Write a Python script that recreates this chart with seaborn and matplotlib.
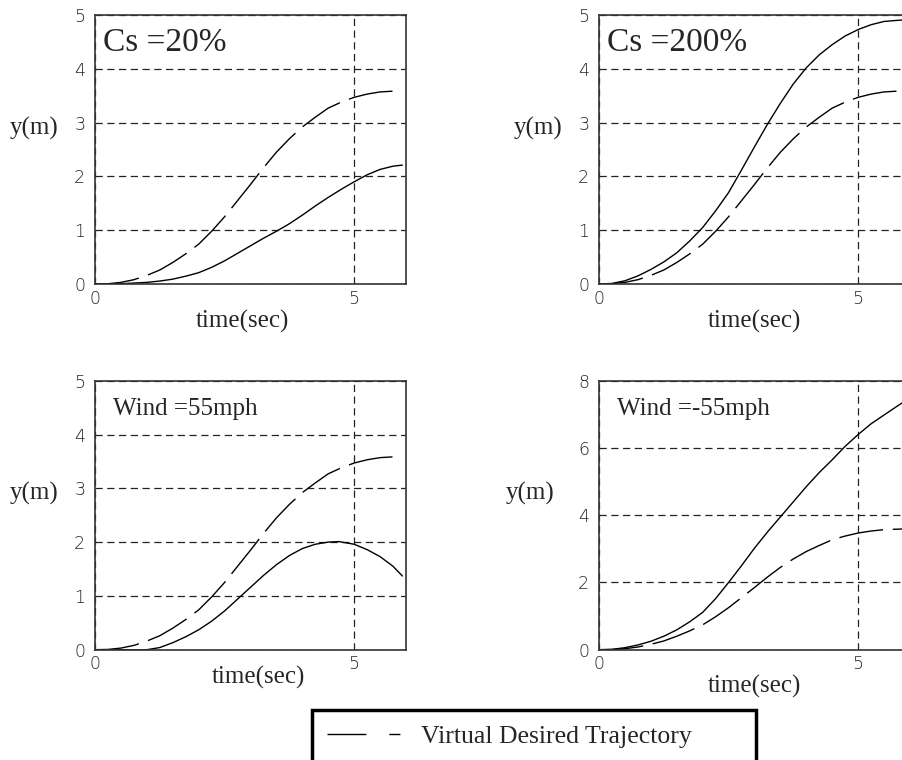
import matplotlib
matplotlib.use("Agg")
import matplotlib.pyplot as plt
from matplotlib.lines import Line2D
import pandas as pd
import seaborn as sns

# Virtual desired trajectory (same reference path in every case)
t_desired = [0.0, 0.25, 0.5, 0.75, 1.0, 1.25, 1.5, 1.75, 2.0, 2.25, 2.5, 2.75, 3.0,
             3.25, 3.5, 3.75, 4.0, 4.25, 4.5, 4.75, 5.0, 5.25, 5.5, 5.85]
y_desired = [0.0, 0.005, 0.03, 0.08, 0.16, 0.26, 0.40, 0.56, 0.74, 0.98, 1.25, 1.55, 1.85,
             2.16, 2.45, 2.70, 2.92, 3.10, 3.27, 3.38, 3.47, 3.53, 3.57, 3.59]

# Actual trajectories for each condition
t_cs20 = [0.0, 0.5, 1.0, 1.25, 1.5, 1.75, 2.0, 2.25, 2.5, 2.75, 3.0, 3.25, 3.5,
          3.75, 4.0, 4.25, 4.5, 4.75, 5.0, 5.25, 5.5, 5.75, 5.93]
y_cs20 = [0.0, 0.005, 0.03, 0.055, 0.09, 0.145, 0.21, 0.31, 0.43, 0.57, 0.71, 0.85, 0.98,
          1.12, 1.28, 1.45, 1.61, 1.76, 1.90, 2.03, 2.13, 2.19, 2.21]

t_cs200 = [0.0, 0.25, 0.5, 0.75, 1.0, 1.25, 1.5, 1.75, 2.0, 2.25, 2.5, 2.75, 3.0,
           3.25, 3.5, 3.75, 4.0, 4.25, 4.5, 4.75, 5.0, 5.25, 5.5, 5.75, 5.93]
y_cs200 = [0.0, 0.01, 0.06, 0.15, 0.27, 0.41, 0.58, 0.80, 1.05, 1.36, 1.70, 2.12, 2.55,
           2.97, 3.36, 3.72, 4.02, 4.26, 4.45, 4.61, 4.73, 4.82, 4.88, 4.90, 4.91]

t_wind_pos = [0.0, 0.5, 1.0, 1.25, 1.5, 1.75, 2.0, 2.25, 2.5, 2.75, 3.0, 3.25, 3.5,
              3.75, 4.0, 4.25, 4.5, 4.7, 5.0, 5.25, 5.5, 5.75, 5.93]
y_wind_pos = [0.0, 0.0, 0.0, 0.04, 0.13, 0.24, 0.37, 0.53, 0.72, 0.94, 1.16, 1.38, 1.58,
              1.75, 1.88, 1.96, 2.0, 2.01, 1.96, 1.86, 1.73, 1.55, 1.37]

t_wind_neg = [0.0, 0.25, 0.5, 0.75, 1.0, 1.25, 1.5, 1.75, 2.0, 2.25, 2.5, 2.75, 3.0,
              3.25, 3.5, 3.75, 4.0, 4.25, 4.5, 4.75, 5.0, 5.25, 5.5, 5.75, 5.93]
y_wind_neg = [0.0, 0.01, 0.06, 0.14, 0.25, 0.40, 0.59, 0.83, 1.11, 1.52, 2.0, 2.50, 3.02,
              3.50, 3.95, 4.40, 4.85, 5.27, 5.65, 6.05, 6.40, 6.72, 6.98, 7.24, 7.42]

panel_titles = ["Cs =20%", "Cs =200%", "Wind =55mph", "Wind =-55mph"]
x_ticks = [0, 5]
y_ticks_small = [0, 1, 2, 3, 4, 5]
y_ticks_large = [0, 2, 4, 6, 8]
legend_label = "Virtual Desired Trajectory"

sns.set_style("white")
SERIF = ["Liberation Serif", "DejaVu Serif"]
plt.rcParams["font.family"] = ["Liberation Serif", "DejaVu Sans"]

fig = plt.figure(figsize=(9.02, 7.60), dpi=100)

W, H = 902.0, 760.0
ax_w, ax_h = 311 / W, 269 / H
lefts = [95 / W, 599 / W]
bottoms = [(H - 284) / H, (H - 649.7) / H]

panels = [
    dict(pos=(lefts[0], bottoms[0]), t=t_cs20, y=y_cs20, yticks=y_ticks_small,
         title=panel_titles[0], tsize=24, tx=0.026, ty=0.866,
         ylab=(-0.196, 0.58), xlab=(0.473, -0.14)),
    dict(pos=(lefts[1], bottoms[0]), t=t_cs200, y=y_cs200, yticks=y_ticks_small,
         title=panel_titles[1], tsize=24, tx=0.025, ty=0.866,
         ylab=(-0.196, 0.58), xlab=(0.50, -0.14)),
    dict(pos=(lefts[0], bottoms[1]), t=t_wind_pos, y=y_wind_pos, yticks=y_ticks_small,
         title=panel_titles[2], tsize=18, tx=0.058, ty=0.872,
         ylab=(-0.196, 0.58), xlab=(0.525, -0.105)),
    dict(pos=(lefts[1], bottoms[1]), t=t_wind_neg, y=y_wind_neg, yticks=y_ticks_large,
         title=panel_titles[3], tsize=18, tx=0.057, ty=0.872,
         ylab=(-0.222, 0.58), xlab=(0.50, -0.137)),
]

grid_dash = (0, (5.8, 3.6))
traj_dash = (0, (32, 7))

for p in panels:
    ax = fig.add_axes([p["pos"][0], p["pos"][1], ax_w, ax_h])
    df_act = pd.DataFrame({"t": p["t"], "y": p["y"]})
    df_des = pd.DataFrame({"t": t_desired, "y": y_desired})
    sns.lineplot(data=df_act, x="t", y="y", ax=ax, color="black", lw=1.0,
                 sort=False, estimator=None)
    sns.lineplot(data=df_des, x="t", y="y", ax=ax, color="black", lw=1.0,
                 sort=False, estimator=None, linestyle=traj_dash)
    ax.set_xlim(0, 6)
    ax.set_ylim(p["yticks"][0], p["yticks"][-1])
    ax.set_xticks(x_ticks)
    ax.set_yticks(p["yticks"])
    ax.grid(True, color="#222222", lw=0.9, linestyle=grid_dash)
    ax.set_axisbelow(True)
    for s in ax.spines.values():
        s.set_color("#333333")
        s.set_linewidth(1.2)
    ax.tick_params(axis="both", length=0, labelsize=12.5, labelcolor="#222222")
    ax.tick_params(axis="y", pad=7)
    ax.tick_params(axis="x", pad=4)
    for lab in ax.get_xticklabels() + ax.get_yticklabels():
        lab.set_fontfamily("DejaVu Sans")
        lab.set_fontweight("light")
    ax.set_ylabel("y(m)", rotation=0, fontsize=18, family=SERIF, va="center", ha="center")
    ax.yaxis.set_label_coords(*p["ylab"])
    ax.set_xlabel("time(sec)", fontsize=18, family=SERIF, va="center", ha="center")
    ax.xaxis.set_label_coords(*p["xlab"])
    ax.text(p["tx"], p["ty"], p["title"], transform=ax.transAxes, fontsize=p["tsize"],
            family=SERIF, va="baseline", ha="left")

handle = Line2D([], [], color="black", lw=1.0, linestyle=(0, (28, 16.5, 8, 60)))
leg = fig.legend(handles=[handle], labels=[legend_label],
                 loc="upper left", bbox_to_anchor=(312 / W, (H - 710) / H, 444 / W, 0.0),
                 mode="expand", prop={"family": SERIF, "size": 18.5},
                 handlelength=2.85, handletextpad=0.8, borderpad=0.6, borderaxespad=0.0,
                 fancybox=False, framealpha=1.0, edgecolor="black")
leg.get_frame().set_linewidth(2.5)

fig.savefig("out.png", dpi=100)
